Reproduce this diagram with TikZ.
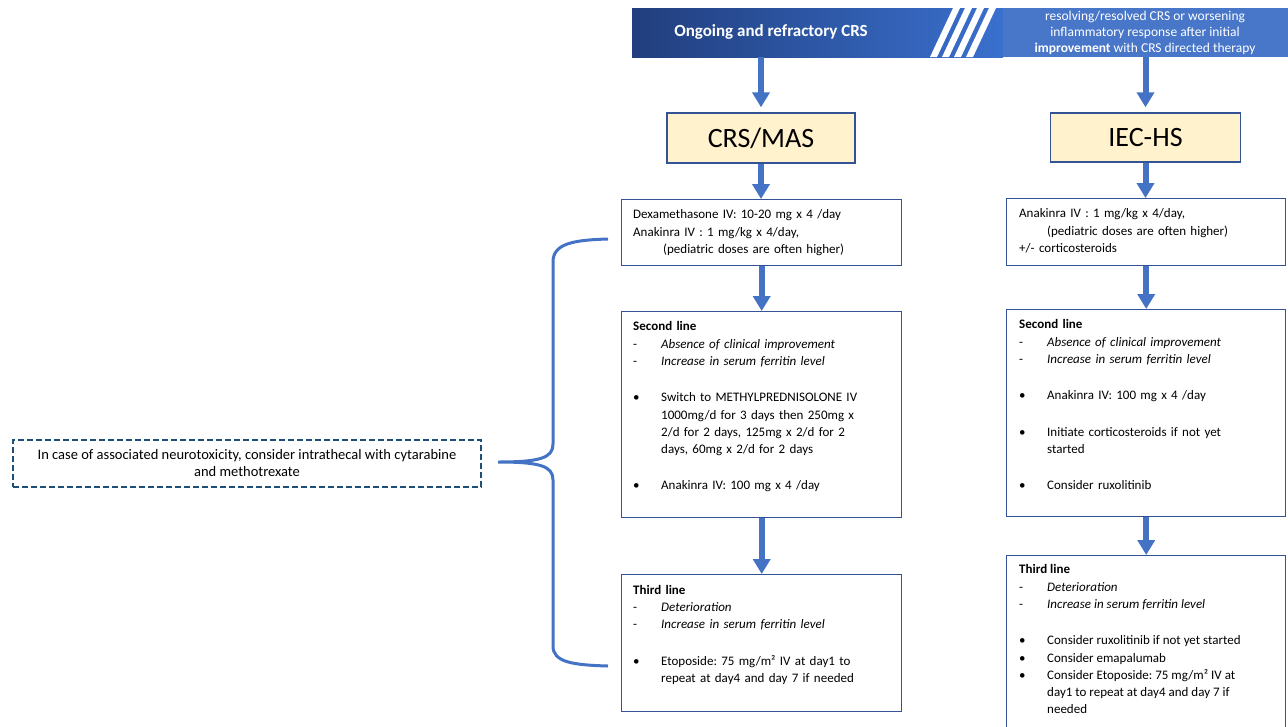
\documentclass[tikz,border=0pt]{standalone}
\usepackage{fontspec}
\setmainfont{Carlito}
\usetikzlibrary{arrows.meta,calc}
\frenchspacing
\definecolor{arrblue}{RGB}{68,114,196}
\definecolor{boxblue}{RGB}{52,82,150}
\definecolor{yelfill}{RGB}{255,242,204}
\definecolor{dashblue}{RGB}{31,78,121}
\definecolor{bandL}{RGB}{33,62,125}
\definecolor{bandM}{RGB}{58,112,206}
\definecolor{bandR}{RGB}{72,118,200}
\newcommand\itm[2]{\par\noindent\makebox[28pt][l]{#1}#2\par}
\newcommand\cnt[1]{\par{\leftskip=28pt\noindent #1\par}}
\newcommand\gap{\par\vspace{19pt}}
\tikzset{
  arr/.style={draw=arrblue, line width=6pt, -{Triangle[width=17pt,length=15pt]}},
  yelbox/.style={draw=boxblue, fill=yelfill, line width=1.4pt, inner sep=0pt,
    font=\fontsize{28}{32}\selectfont},
  txtbox/.style={draw=boxblue, line width=1.4pt, inner sep=0pt, anchor=north west},
  bodytxt/.style={anchor=north west, inner sep=0pt, text width=264pt, align=left,
    font=\fontsize{13}{17.3}\selectfont\frenchspacing},
  tabtxt/.style={anchor=north west, inner sep=0pt,
    font=\fontsize{13}{17.3}\selectfont\frenchspacing},
  dashbox/.style={draw=dashblue, line width=2pt, dash pattern=on 6pt off 3pt,
    inner sep=0pt, align=center, font=\fontsize{14.5}{17}\selectfont},
  brace/.style={draw=arrblue, line width=3pt}
}
\begin{document}
\begin{tikzpicture}[x=1pt,y=-1pt]
\useasboundingbox (0,0) rectangle (1288,726);
\clip (0,0) rectangle (1288,726);
% banner
\shade[left color=bandL, right color=bandM] (632,8) rectangle (1003,57);
\fill[bandR] (1003,8) rectangle (1288,57);
\foreach \o in {0,12,24,36}{
  \fill[white] ({953+\o},8) -- ({960+\o},8) -- ({937+\o},57) -- ({930+\o},57) -- cycle;
}
\node[minimum width=656pt, minimum height=49pt, inner sep=0pt] (banner) at (960,32.5) {};
\node[text=white, font=\fontsize{17}{20}\selectfont\bfseries] (hdrL) at (771,32) {Ongoing and refractory CRS};
\node[text=white, align=center, font=\fontsize{13.5}{15.7}\selectfont] (hdrR) at (1145,33)
  {resolving/resolved CRS or worsening\\inflammatory response after initial\\\textbf{improvement} with CRS directed therapy};

% yellow boxes
\node[yelbox, minimum width=188pt, minimum height=50pt] (crs) at (761,138) {CRS/MAS};
\node[yelbox, minimum width=190pt, minimum height=49pt] (iec) at (1145.5,137.5) {IEC-HS};

% left column boxes
\node[txtbox, minimum width=280pt, minimum height=66pt] (l1) at (621,199) {};
\node[txtbox, minimum width=280pt, minimum height=206pt] (l2) at (621,311) {};
\node[txtbox, minimum width=280pt, minimum height=137pt] (l3) at (621,574) {};
% right column boxes
\node[txtbox, minimum width=279pt, minimum height=67pt] (r1) at (1006,198) {};
\node[txtbox, minimum width=279pt, minimum height=207pt] (r2) at (1006,309) {};
\node[txtbox, minimum width=279pt, minimum height=180pt] (r3) at (1006,555) {};

% texts
\node[bodytxt] (l1t) at ($(l1.north west)+(12,7.5)$) {\noindent\strut Dexamethasone IV: 10-20 mg x 4 /day\par
\noindent Anakinra IV : 1 mg/kg x 4/day,\par
\noindent\hspace*{30pt}(pediatric doses are often higher)\par};
\node[bodytxt] (l2t) at ($(l2.north west)+(12,7.5)$) {\noindent\strut\textbf{Second line}\par
\itm{-}{\textit{Absence of clinical improvement}}
\itm{-}{\textit{Increase in serum ferritin level}}
\gap
\itm{•}{Switch to METHYLPREDNISOLONE IV}
\cnt{1000mg/d for 3 days then 250mg x}
\cnt{2/d for 2 days, 125mg x 2/d for 2}
\cnt{days, 60mg x 2/d for 2 days}
\gap
\itm{•}{Anakinra IV: 100 mg x 4 /day}};
\node[bodytxt] (l3t) at ($(l3.north west)+(12,8)$) {\noindent\strut\textbf{Third line}\par
\itm{-}{\textit{Deterioration}}
\itm{-}{\textit{Increase in serum ferritin level}}
\gap
\itm{•}{Etoposide: 75 mg/m² IV at day1 to}
\cnt{repeat at day4 and day 7 if needed}};

\node[bodytxt] (r1t) at ($(r1.north west)+(13,7.5)$) {\noindent\strut Anakinra IV : 1 mg/kg x 4/day,\par
\noindent\hspace*{28pt}(pediatric doses are often higher)\par
\noindent +/- corticosteroids\par};
\node[bodytxt] (r2t) at ($(r2.north west)+(13,7.5)$) {\noindent\strut\textbf{Second line}\par
\itm{-}{\textit{Absence of clinical improvement}}
\itm{-}{\textit{Increase in serum ferritin level}}
\gap
\itm{•}{Anakinra IV: 100 mg x 4 /day}
\gap
\itm{•}{Initiate corticosteroids if not yet}
\cnt{started}
\gap
\itm{•}{Consider ruxolitinib}};
\node[tabtxt] (r3t) at ($(r3.north west)+(13,6.5)$) {%
\begin{tabular}{@{}p{28pt}@{}l@{}}
\multicolumn{2}{@{}l@{}}{\textbf{Third line}}\\
- & \textit{Deterioration}\\
- & \textit{Increase in serum ferritin level}\\[19pt]
• & Consider ruxolitinib if not yet started\\
• & Consider emapalumab\\
• & Consider Etoposide: 75 mg/m² IV at\\
  & day1 to repeat at day4 and day 7 if\\
  & needed
\end{tabular}};

% arrows
\draw[arr, shorten >=5pt] (banner.south -| crs.north) -- (crs.north);
\draw[arr] (crs.south) -- (crs.south |- l1.north);
\draw[arr] (l1.south) -- (l1.south |- l2.north);
\draw[arr] (l2.south) -- (l2.south |- l3.north);
\draw[arr, shorten >=5pt] (banner.south -| iec.north) -- (iec.north);
\draw[arr] (iec.south) -- (iec.south |- r1.north);
\draw[arr] (r1.south) -- (r1.south |- r2.north);
\draw[arr] (r2.south) -- (r2.south |- r3.north);

% dashed note and brace
\node[dashbox, minimum width=468pt, minimum height=47pt] (note) at (247,463.5)
  {In case of associated neurotoxicity, consider intrathecal with cytarabine\\and methotrexate};
\coordinate (brT) at (608,239);
\coordinate (brB) at (608,666);
\coordinate (brTip) at (498,462);
\draw[brace] (brT) .. controls (572,240) and (553,244) .. (553,262) -- (553,444)
  .. controls (553,458) and (540,462) .. (brTip)
  .. controls (540,462) and (553,466) .. (553,480) -- (553,646)
  .. controls (553,662) and (572,665) .. (brB);
\end{tikzpicture}
\end{document}
